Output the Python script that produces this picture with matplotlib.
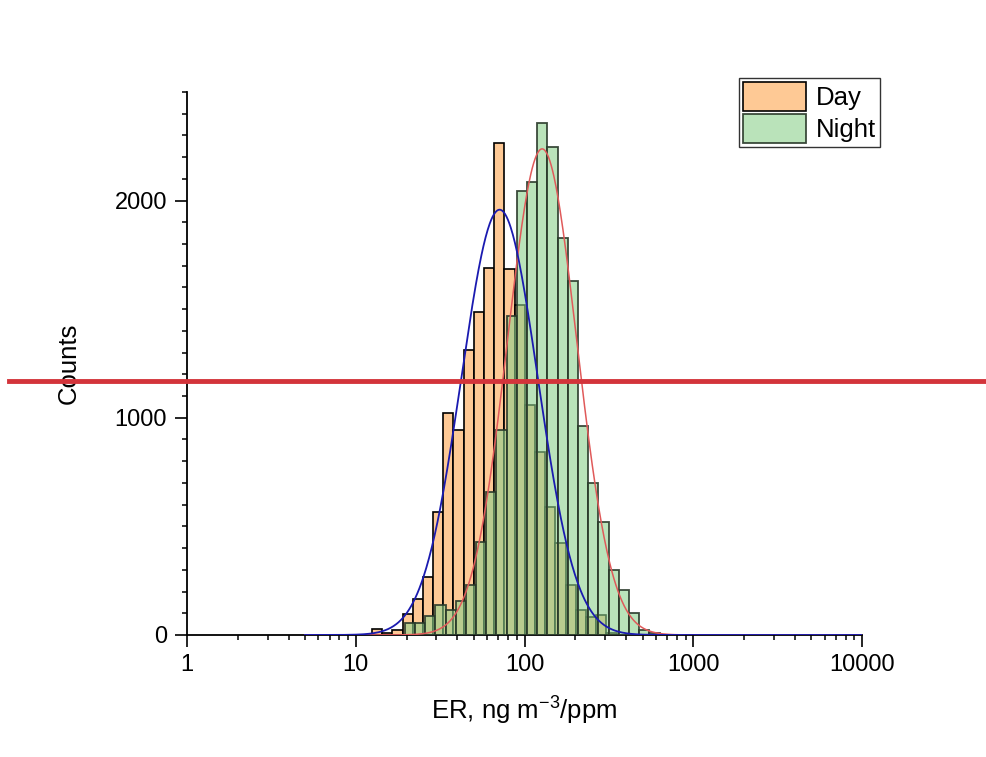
import numpy as np
import matplotlib
matplotlib.use("Agg")
import matplotlib.pyplot as plt
from matplotlib import ticker

plt.rcParams["font.family"] = ["Liberation Sans", "DejaVu Sans"]
plt.rcParams["mathtext.default"] = "regular"

# histogram counts, log10-spaced bins
day_counts = [26, 10, 22, 97, 164, 268, 567, 1022, 946, 1310, 1487, 1689,
              2264, 1683, 1520, 1057, 843, 590, 424, 230, 115, 81, 92, 10]
night_counts = [54, 57, 87, 138, 115, 156, 230, 429, 659, 946, 1468, 2046,
                2087, 2355, 2245, 1826, 1632, 962, 700, 521, 299, 207, 100, 23, 10]
day_log_start = 1.0957
night_log_start = 1.2901
bin_log_width = 0.0604

# lognormal fits (log10 centre, log10 sigma, amplitude)
day_fit = (1.852, 0.226, 1958)
night_fit = (2.104, 0.205, 2238)
fit_range = (5, 10000)

threshold = 1170


def edges(start, n):
    return 10 ** (start + bin_log_width * np.arange(n + 1))


def lognorm_curve(x, mu, sigma, amp):
    return amp * np.exp(-(np.log10(x) - mu) ** 2 / (2 * sigma ** 2))


fig = plt.figure(figsize=(9.86, 7.57), dpi=100)
ax = fig.add_axes([0.1897, 0.1612, 0.6846, 0.7173])

de = edges(day_log_start, len(day_counts))
ne = edges(night_log_start, len(night_counts))

ax.bar(de[:-1], day_counts, width=np.diff(de), align="edge",
       facecolor="#FEC995", edgecolor="black", linewidth=1.2, label="Day", zorder=2)
ax.bar(ne[:-1], night_counts, width=np.diff(ne), align="edge",
       facecolor=(0.55, 0.82, 0.55, 0.6), edgecolor=(0.16, 0.22, 0.16, 0.9),
       linewidth=1.3, label="Night", zorder=3)

xf = np.logspace(np.log10(fit_range[0]), np.log10(fit_range[1]), 800)
ax.plot(xf, lognorm_curve(xf, *night_fit), color="#E05A5A", lw=1.1, zorder=4)
ax.plot(xf, lognorm_curve(xf, *day_fit), color="#1A1AB0", lw=1.3, zorder=5)

ax.axhline(threshold, xmin=-0.264, xmax=1.2, color="#D3343B", lw=3.5,
           clip_on=False, zorder=6)

ax.set_xscale("log")
ax.set_xlim(1, 10000)
ax.set_ylim(0, 2500)
ax.xaxis.set_major_locator(ticker.LogLocator(base=10, numticks=10))
ax.xaxis.set_minor_locator(ticker.LogLocator(base=10, subs=np.arange(2, 10), numticks=20))
ax.xaxis.set_major_formatter(ticker.FuncFormatter(lambda v, p: f"{v:g}"))
ax.xaxis.set_minor_formatter(ticker.NullFormatter())
ax.yaxis.set_major_locator(ticker.MultipleLocator(1000))
ax.yaxis.set_minor_locator(ticker.MultipleLocator(100))

for side in ("top", "right"):
    ax.spines[side].set_visible(False)
for side in ("left", "bottom"):
    ax.spines[side].set_linewidth(1.3)

ax.tick_params(which="major", direction="out", length=8.5, width=1.2, labelsize=17)
ax.tick_params(which="minor", direction="out", length=3.5, width=1.1)
ax.tick_params(axis="x", which="major", pad=5)
ax.tick_params(axis="y", which="major", pad=6)

ax.set_xlabel("ER, ng m$^{-3}$/ppm", fontsize=18.5, labelpad=14)
ax.set_ylabel("Counts", fontsize=18.5, labelpad=24)

leg = ax.legend(loc="upper left", bbox_to_anchor=(0.818, 1.025), fontsize=18.5,
                frameon=True, fancybox=False, handlelength=2.45, handleheight=1.35,
                labelspacing=0.12, borderpad=0.15, handletextpad=0.4,
                borderaxespad=0)
leg.get_frame().set_edgecolor("black")
leg.get_frame().set_linewidth(1.0)

fig.savefig("out.png", dpi=100)
